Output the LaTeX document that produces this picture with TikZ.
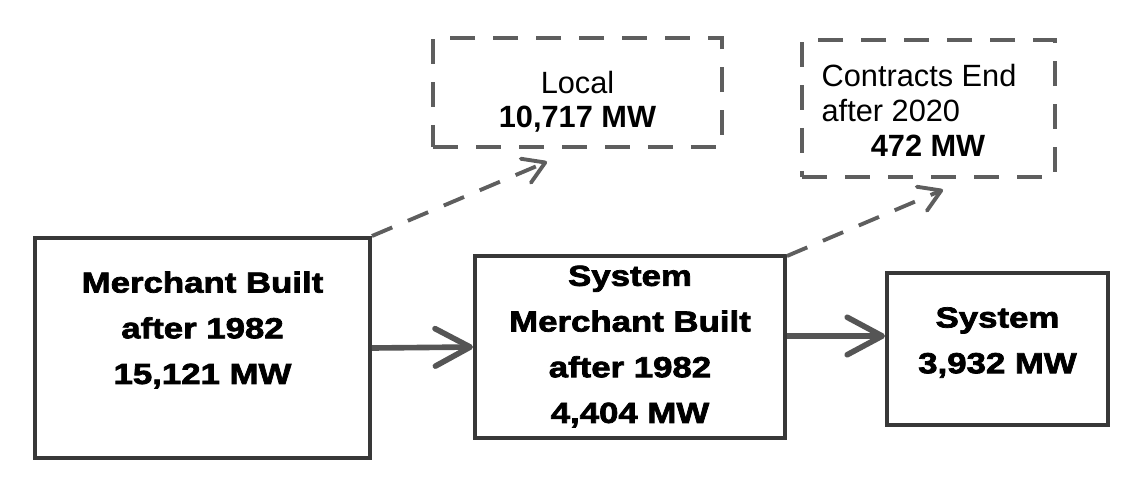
\documentclass[tikz,border=0pt]{standalone}
\usepackage{fontspec}
\setmainfont{Liberation Sans}
\newfontfamily\heavysf[FakeStretch=1.2,FakeBold=2.5]{Liberation Sans}
\usetikzlibrary{arrows.meta}
\definecolor{frame}{HTML}{383838}
\definecolor{flowc}{HTML}{555555}
\definecolor{dashc}{HTML}{5E5E5E}

\begin{document}
\begin{tikzpicture}[x=0.02cm,y=-0.02cm,
  box/.style={draw=frame,line width=2.3pt,inner sep=0pt},
  dbox/.style={draw=dashc,line width=2pt,dash pattern=on 0.5cm off 0.36cm,inner sep=0pt},
  big/.style={font=\heavysf\bfseries\fontsize{16.5}{26}\selectfont,align=center,inner sep=0pt},
  small/.style={font=\fontsize{17.5}{19.5}\selectfont,inner sep=0pt},
  flow/.style={flowc,line width=3.2pt,-{Straight Barb[length=0.7cm,width=0.75cm,round]}},
  spill/.style={dashc,line width=2.2pt,dash pattern=on 0.44cm off 0.34cm,-{Straight Barb[length=0.42cm,width=0.52cm,round]}}]
  \useasboundingbox (0,0) rectangle (1128,480);
  % solid boxes
  \node[box,minimum width=6.7cm,minimum height=4.4cm] (merch) at (202.5,348) {};
  \node[box,minimum width=6.2cm,minimum height=3.64cm] (sysm) at (630,347) {};
  \node[box,minimum width=4.42cm,minimum height=3.04cm] (sys) at (997.5,349) {};
  % dashed boxes
  \node[dbox,minimum width=5.78cm,minimum height=2.18cm] (local) at (577.5,92.5) {};
  \node[dbox,minimum width=5.06cm,minimum height=2.74cm] (contr) at (928.5,108.5) {};
  % texts
  \node[big,yshift=0.36cm] (merchtxt) at (merch) {Merchant Built\\after 1982\\15,121 MW};
  \node[big,yshift=0.01cm] (sysmtxt) at (sysm) {System\\Merchant Built\\after 1982\\4,404 MW};
  \node[big,yshift=0.13cm] (systxt) at (sys) {System\\3,932 MW};
  \node[small,align=center,yshift=-0.18cm] (localtxt) at (local) {Local\\\textbf{10,717 MW}};
  \node[small,align=left,anchor=west,xshift=0.42cm,yshift=-0.04cm,
    font=\fontsize{17.5}{20}\selectfont] (contrtxt) at (contr.west)
    {Contracts End\\after 2020\\\hspace*{28pt}\textbf{472 MW}};
  % flows
  \draw[flow] (merch.east) -- (sysm.west);
  \draw[flow] ([yshift=0.22cm]sysm.east) -- ([yshift=0.26cm]sys.west);
  \draw[spill] (merch.north east) -- ([xshift=-0.61cm,yshift=-0.26cm]local.south);
  \draw[spill] ([yshift=-0.04cm]sysm.north east) -- ([xshift=0.29cm,yshift=-0.22cm]contr.south);
\end{tikzpicture}
\end{document}
